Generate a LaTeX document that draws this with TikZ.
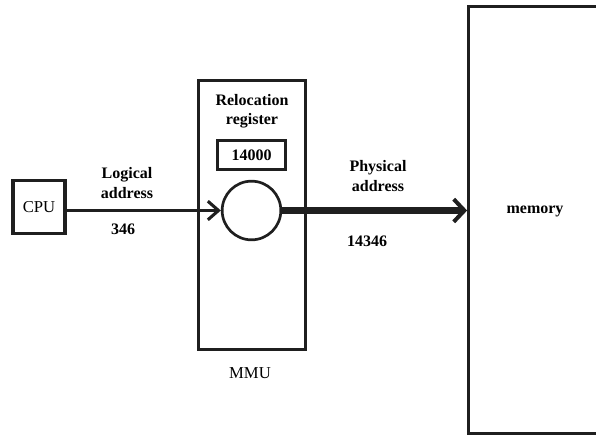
\documentclass[tikz,border=0pt]{standalone}
\usepackage{fontspec}
\setmainfont{Liberation Serif}
\usetikzlibrary{arrows.meta}
\definecolor{boxline}{gray}{0.12}

\begin{document}
\begin{tikzpicture}[x=0.75pt, y=-0.75pt,
    unit/.style={draw=boxline, line width=2.3pt, inner sep=0pt},
    lbl/.style={font=\fontsize{12}{14.3}\selectfont\bfseries, align=center},
    plain/.style={font=\fontsize{12.5}{14.3}\selectfont}]
    \path[use as bounding box, clip] (0,0) rectangle (596,437);

    % boxes
    \node[unit, plain, minimum width=39pt, minimum height=40pt] (cpu) at (39,207) {CPU};
    \node[unit, minimum width=80.5pt, minimum height=202pt] (mmu) at (252,215) {};
    \node[unit, lbl, minimum width=51pt, minimum height=22pt] (reg) at (251.5,155) {14000};
    \node[unit, circle, line width=2pt, minimum size=44pt] (adder) at (251.5,210.5) {};
    \node[unit, minimum width=200pt, minimum height=320.5pt] (memory) at (602,220) {};

    % labels
    \node[lbl] (reltxt) at (252,111) {Relocation\\register};
    \node[lbl] (logtxt) at (127,183) {Logical\\address};
    \node[lbl] (logval) at (123,229) {346};
    \node[lbl] (phystxt) at (378,176) {Physical\\address};
    \node[lbl] (physval) at (367,241) {14346};
    \node[plain] (mmutxt) at (250,373) {MMU};
    \node[lbl] (memtxt) at (535,211) {memory};

    % connectors
    \draw[boxline, line width=2.3pt, -{Straight Barb[length=8pt, width=14pt, line width=2.3pt]}]
        (cpu.east |- adder.west) -- (adder.west);
    \draw[boxline, line width=5pt, -{Straight Barb[length=8pt, width=17pt, line width=3pt]}]
        (adder.east) -- (adder.east -| memory.west);
\end{tikzpicture}
\end{document}
